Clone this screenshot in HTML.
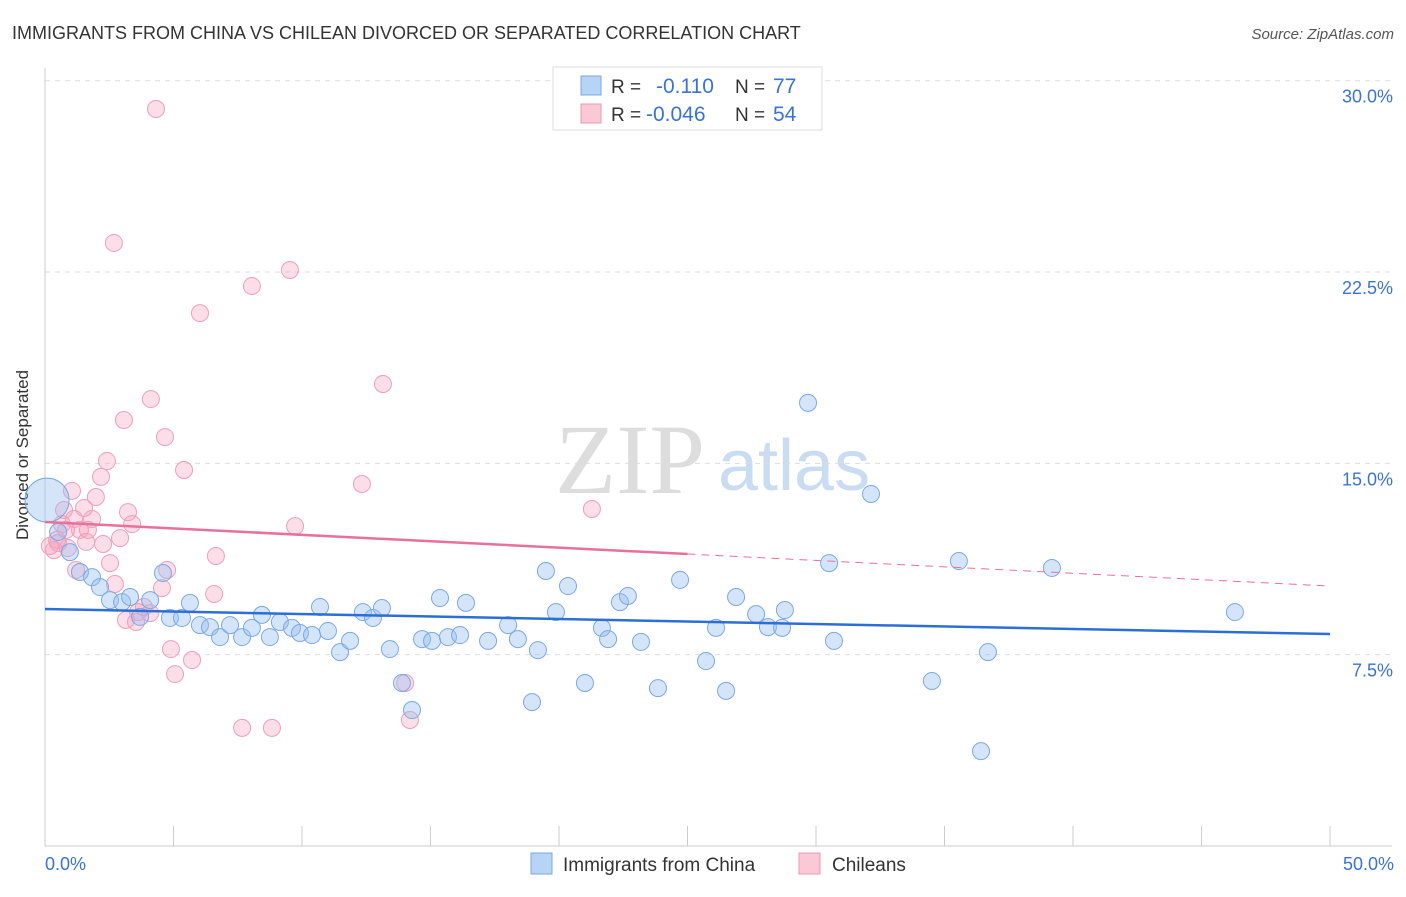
<!DOCTYPE html>
<html><head><meta charset="utf-8"><style>
body{margin:0;background:#fff;font-family:"Liberation Sans",sans-serif;}
svg text{font-family:"Liberation Sans",sans-serif;}
</style></head><body>
<svg id="chart" width="1406" height="892" xmlns="http://www.w3.org/2000/svg">
<text x="12" y="39" font-size="18" fill="#333">IMMIGRANTS FROM CHINA VS CHILEAN DIVORCED OR SEPARATED CORRELATION CHART</text>
<text x="1394" y="39" font-size="15" fill="#555" font-style="italic" text-anchor="end">Source: ZipAtlas.com</text>
<text x="28" y="455" font-size="17" fill="#333" text-anchor="middle" transform="rotate(-90 28 455)">Divorced or Separated</text>
<text x="555" y="493" font-size="100" fill="#ddd" font-family="Liberation Serif" style="font-family:'Liberation Serif',serif">ZIP</text>
<text x="718" y="490" font-size="72" fill="#c9dcf2">atlas</text>
<g id="grid"></g><g id="axes"></g><g id="pink"></g><g id="blue"></g><g id="trends"></g>
<g>
<rect x="553" y="67" width="269" height="63" fill="#fff" stroke="#ddd"/>
<rect x="581" y="76" width="20" height="19" fill="#b8d4f5" stroke="#7aa9e6"/>
<rect x="581" y="104" width="20" height="19" fill="#fbc8d6" stroke="#ef9ab3"/>
<text x="611" y="93" font-size="19" fill="#333">R =</text><text x="656" y="93" font-size="21" fill="#3a73d0">-0.110</text>
<text x="735" y="93" font-size="19" fill="#333">N =</text><text x="773" y="93" font-size="21" fill="#3a73d0">77</text>
<text x="611" y="121" font-size="19" fill="#333">R =</text><text x="646" y="121" font-size="21" fill="#3a73d0">-0.046</text>
<text x="735" y="121" font-size="19" fill="#333">N =</text><text x="773" y="121" font-size="21" fill="#3a73d0">54</text>
</g>
<g>
<rect x="531" y="853" width="21" height="21" fill="#b8d4f5" stroke="#7aa9e6"/>
<text x="563" y="871" font-size="19" fill="#333">Immigrants from China</text>
<rect x="799" y="853" width="21" height="21" fill="#fbc8d6" stroke="#ef9ab3"/>
<text x="832" y="871" font-size="19" fill="#333">Chileans</text>
</g>
</svg>
<script>
const yTicks=[7.5,15,22.5,30];
const yTickLabels=["7.5%","15.0%","22.5%","30.0%"];
const xTickLabels=["0.0%","50.0%"];
const blueX=[0.08,0.51,0.97,1.36,1.83,2.14,2.53,3.00,3.31,3.70,4.09,4.59,4.86,5.33,5.64,6.03,6.42,6.81,7.20,7.67,8.05,8.44,8.75,9.14,9.61,9.92,10.39,10.70,11.01,11.48,11.87,12.37,12.76,13.11,13.42,13.89,14.28,14.67,15.06,15.37,15.68,16.15,16.38,17.24,18.02,18.40,19.18,18.95,19.49,19.88,20.35,21.01,21.67,21.91,22.37,22.68,23.19,23.85,24.71,25.72,26.11,26.50,26.89,27.67,28.13,28.68,28.79,29.69,30.51,30.70,32.14,34.51,35.56,36.42,36.69,39.18,46.30];
const blueY=[13.56,12.31,11.52,10.74,10.54,10.15,9.64,9.56,9.76,8.98,9.64,10.70,8.94,8.94,9.53,8.66,8.58,8.19,8.66,8.19,8.55,9.06,8.19,8.78,8.55,8.35,8.27,9.37,8.43,7.60,8.04,9.17,8.94,9.33,7.72,6.39,5.33,8.11,8.04,9.72,8.19,8.27,9.53,8.04,8.66,8.11,7.68,5.64,10.78,9.17,10.19,6.39,8.55,8.11,9.56,9.80,8.00,6.19,10.43,7.25,8.55,6.08,9.76,9.09,8.58,8.55,9.25,17.37,11.09,8.04,13.80,6.47,11.17,3.72,7.60,10.90,9.17];
const pinkX=[4.32,2.68,9.53,8.05,6.03,13.15,4.12,3.07,4.67,2.41,5.41,12.33,2.18,1.05,1.98,0.74,1.13,21.28,9.73,3.23,3.39,1.83,1.36,2.92,1.60,0.47,2.26,0.35,6.65,2.53,1.21,4.75,2.72,4.55,6.58,3.85,4.09,3.62,3.15,3.54,4.90,5.72,5.06,7.67,8.83,14.01,14.20,0.51,0.89,1.67,1.52,0.82,0.19,0.66];
const pinkY=[28.89,23.64,22.58,21.95,20.89,18.11,17.52,16.70,16.03,15.09,14.74,14.19,14.47,13.92,13.68,13.17,12.82,13.21,12.54,13.09,12.62,12.82,12.39,12.07,11.92,12.00,11.84,11.60,11.37,11.09,10.82,10.82,10.27,10.11,9.88,9.37,9.13,9.17,8.86,8.78,7.72,7.29,6.74,4.63,4.63,6.39,4.94,11.88,11.68,12.39,13.25,12.39,11.76,12.62];
const blueTrend=[9.29,8.31];
const pinkTrend=[12.70,10.19];
const X0=45,X1=1330,YB=846,PPY=25.51;
const sx=v=>X0+(v/50)*(X1-X0);
const sy=v=>YB-v*PPY;
const NS="http://www.w3.org/2000/svg";
function mk(tag,attrs,parent){const e=document.createElementNS(NS,tag);for(const k in attrs)e.setAttribute(k,attrs[k]);document.getElementById(parent).appendChild(e);return e;}
yTicks.forEach((t,i)=>{
 const l=mk('line',{x1:45,x2:1392,y1:sy(t),y2:sy(t),stroke:'#ddd','stroke-dasharray':'5,5'},'grid');
 
 
 const tx=mk('text',{x:1393,y:sy(t)+22,'font-size':18,fill:'#3a73d0','text-anchor':'end'},'grid');
 tx.textContent=yTickLabels[i];
 
 
});
const ax=mk('line',{x1:45,x2:45,y1:68,y2:YB,stroke:'#ccc'},'axes');


const bx=mk('line',{x1:45,x2:1392,y1:YB,y2:YB,stroke:'#ccc'},'axes');


for(let i=0;i<=10;i++){const t=mk('line',{x1:sx(i*5),x2:sx(i*5),y1:826,y2:846,stroke:'#ccc'},'axes');
 
 }
[0,50].forEach((v,i)=>{const t=mk('text',{x:i?1394:45,y:870,'font-size':18,fill:'#3a73d0','text-anchor':i?'end':'start'},'axes');
 t.textContent=xTickLabels[i];
 
 });
pinkX.forEach((x,i)=>{const c=mk('circle',{cx:sx(x),cy:sy(pinkY[i]),r:8.5,fill:'rgba(246,160,188,0.35)',stroke:'#eea0b8','stroke-width':1},'pink');
 
 });
blueX.forEach((x,i)=>{const c=mk('circle',{cx:sx(x),cy:sy(blueY[i]),r:i===0?22:8.5,fill:'rgba(150,190,240,0.4)',stroke:'#7aa9e6','stroke-width':1},'blue');
 
 });
const bt=mk('line',{x1:sx(0),y1:sy(blueTrend[0]),x2:sx(50),y2:sy(blueTrend[1]),stroke:'#2b6fd6','stroke-width':2.5},'trends');


const pm=pinkTrend[0]+(pinkTrend[1]-pinkTrend[0])*0.5;
const pt=mk('line',{x1:sx(0),y1:sy(pinkTrend[0]),x2:sx(25),y2:sy(pm),stroke:'#e8709a','stroke-width':2.5},'trends');


const pd=mk('line',{x1:sx(25),y1:sy(pm),x2:sx(50),y2:sy(pinkTrend[1]),stroke:'#e8709a','stroke-width':1,'stroke-dasharray':'8,6'},'trends');


</script>
</body></html>
